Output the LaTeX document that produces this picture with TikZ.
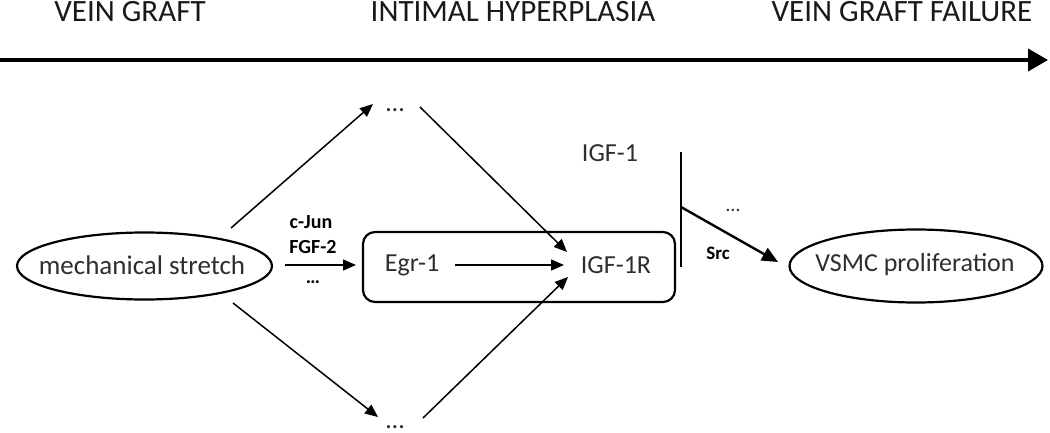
\documentclass[tikz,border=0pt]{standalone}
\usepackage{fontspec}
\setmainfont{Carlito}
\usetikzlibrary{arrows.meta,shapes.geometric}
\tikzset{
  txt/.style={inner sep=0pt, text=black!82, font=\fontsize{26}{28}\selectfont},
  ttl/.style={inner sep=0pt, text=black!90, font=\fontsize{31}{33}\selectfont, anchor=base},
  lbl/.style={inner sep=0pt, text=black, font=\bfseries\fontsize{20}{22}\selectfont},
  oval/.style={draw, ellipse, line width=2.2pt, inner sep=0pt},
  thinarrow/.style={line width=1.5pt, -{Triangle[length=13pt,width=11pt]}},
  bigarrow/.style={line width=2.4pt, -{Triangle[length=16pt,width=14pt]}},
}
\begin{document}
\begin{tikzpicture}[x=1pt,y=-1pt]
\useasboundingbox (0,0) rectangle (1050,433);
% timeline
\node[ttl] (t1) at (130,22) {VEIN GRAFT};
\node[ttl] (t2) at (513,22) {INTIMAL HYPERPLASIA};
\node[ttl] (t3) at (902,22) {VEIN GRAFT FAILURE};
\coordinate (a0) at (0,60);
\coordinate (a1) at (1048,60);
\draw[line width=4pt, -{Triangle[length=20pt,width=22pt]}] (a0) -- (a1);
% nodes
\node[oval, minimum width=255pt, minimum height=67pt] (ms) at (144.5,266) {};
\node[txt, font=\fontsize{27}{29}\selectfont] (mst) at (142,265) {mechanical stretch};
\node[draw, line width=2.2pt, rounded corners=12pt, minimum width=312pt, minimum height=70pt] (box) at (519,267) {};
\node[txt] (egr) at (412,265) {Egr-1};
\node[txt] (igfr) at (616,265) {IGF-1R};
\node[txt] (dtop) at (395,110) {…};
\node[txt] (dbot) at (395,427) {…};
\node[txt] (igf) at (610,153) {IGF-1};
\node[oval, minimum width=253pt, minimum height=73pt] (vsmc) at (916,266) {};
\node[txt] (vt) at (915,265) {VSMC proliferation};
% labels
\node[lbl] (cjun) at (311,222) {c-Jun};
\node[lbl] (fgf) at (313,247) {FGF-2};
\node[lbl] (ldots) at (313,282) {…};
\node[lbl, font=\bfseries\fontsize{19}{21}\selectfont] (src) at (718,253) {Src};
\node[txt, font=\fontsize{20}{22}\selectfont] (sdots) at (733,210) {…};
% connector end points
\coordinate (s1) at (231,228);
\coordinate (e1) at (373,104);
\coordinate (s2) at (233,303);
\coordinate (e2) at (378,417);
\coordinate (s3) at (420,107);
\coordinate (e3) at (567,252);
\coordinate (s4) at (423,418);
\coordinate (e4) at (568,277);
\coordinate (s5) at (285,265);
\coordinate (e5) at (356,265);
\coordinate (s6) at (455,265);
\coordinate (e6) at (564,265);
\coordinate (v0) at (681,152);
\coordinate (v1) at (681,267);
\coordinate (vm) at (681,207);
\coordinate (e7) at (778,262);
% connectors
\draw[thinarrow] (s1) -- (e1);
\draw[thinarrow] (s2) -- (e2);
\draw[thinarrow] (s3) -- (e3);
\draw[thinarrow] (s4) -- (e4);
\draw[thinarrow] (s5) -- (e5);
\draw[thinarrow] (s6) -- (e6);
\draw[line width=1.8pt] (v0) -- (v1);
\draw[bigarrow] (vm) -- (e7);
\end{tikzpicture}
\end{document}
